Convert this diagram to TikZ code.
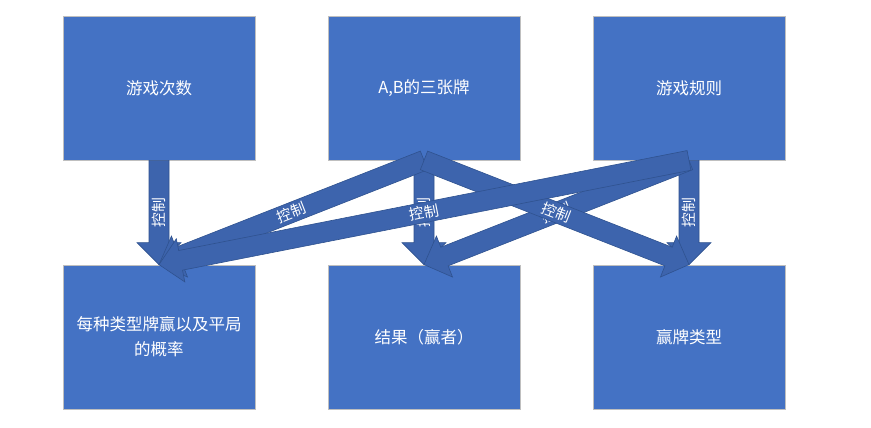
\documentclass[tikz,border=0pt]{standalone}
\usepackage{fontspec}
\newfontfamily\cjk{Noto Sans CJK SC}
\usetikzlibrary{calc}
\definecolor{boxblue}{RGB}{68,114,196}
\definecolor{arrowblue}{RGB}{61,100,173}
\definecolor{arrowedge}{RGB}{47,82,143}
\definecolor{boxedge}{RGB}{191,191,191}
\tikzset{
  box/.style={rectangle, fill=boxblue, draw=boxedge, line width=0.8pt,
    minimum width=192pt, minimum height=144pt, inner sep=0pt, text=white,
    font=\cjk\fontsize{16.5}{25}\selectfont, align=center},
  arr/.style={fill=arrowblue, draw=arrowedge, line width=0.6pt, line join=miter},
  lbl/.style={text=white, font=\cjk\fontsize{14.8}{15}\selectfont, inner sep=0pt},
}
\newcommand\blockarrow[2]{%
  \coordinate (hb) at ($(#2)!22pt!(#1)$);
  \filldraw[arr] ($(#1)!10pt!90:(#2)$) -- ($(hb)!10pt!90:(#2)$) -- ($(hb)!22pt!90:(#2)$)
    -- (#2) -- ($(hb)!22pt!-90:(#2)$) -- ($(hb)!10pt!-90:(#2)$) -- ($(#1)!10pt!-90:(#2)$) -- cycle;}
\begin{document}
\begin{tikzpicture}[x=1pt,y=-1pt]
\fill[white] (0,0) rectangle (871,428);
\useasboundingbox (0,0) rectangle (871,428);
\node[box] (t1) at (159,88) {游戏次数};
\node[box] (t2) at (424,88) {A,B的三张牌};
\node[box] (t3) at (689,88) {游戏规则};
\node[box] (b1) at (159,337) {每种类型牌赢以及平局\\的概率};
\node[box] (b2) at (424,337) {结果（赢者）};
\node[box] (b3) at (689,337) {赢牌类型};
% vertical arrows
\blockarrow{t1.south}{b1.north}
\path (t1.south) -- node[lbl, rotate=90] {控制} (b1.north);
\blockarrow{t2.south}{b2.north}
\path (t2.south) -- node[lbl, rotate=90] {控制} (b2.north);
\blockarrow{t3.south}{b3.north}
\path (t3.south) -- node[lbl, rotate=90] {控制} (b3.north);
% diagonal arrows
\blockarrow{t3.south}{b2.north}
\path (t3.south) -- node[lbl, sloped] {控制} (b2.north);
\blockarrow{t2.south}{b1.north}
\path (t2.south) -- node[lbl, sloped] {控制} (b1.north);
\blockarrow{t2.south}{b3.north}
\path (t2.south) -- node[lbl, sloped] {控制} (b3.north);
\blockarrow{t3.south}{b1.north}
\path (t3.south) -- node[lbl, sloped] {控制} (b1.north);
\end{tikzpicture}
\end{document}
